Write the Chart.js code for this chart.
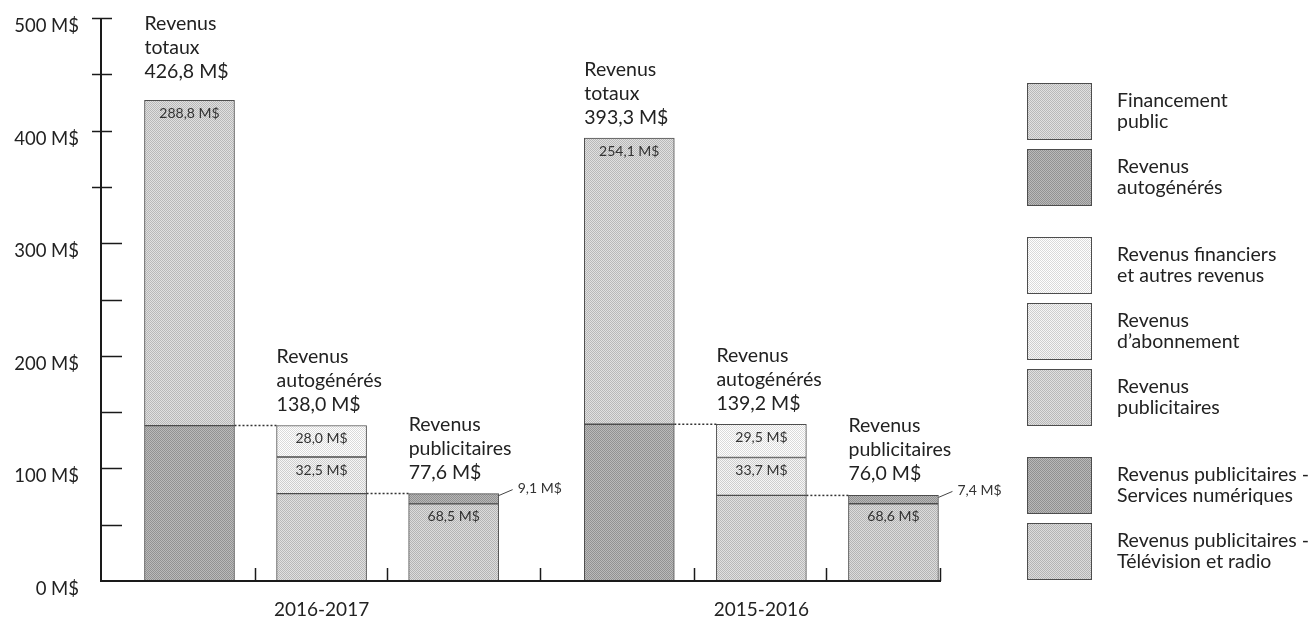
<!DOCTYPE html>
<html lang="fr">
<head>
<meta charset="UTF-8">
<title>Revenus 2016-2017 et 2015-2016</title>
<script src="https://cdn.jsdelivr.net/npm/chart.js"></script>
<style>
  html, body { margin: 0; padding: 0; background: #fff; }
  canvas { display: block; }
</style>
</head>
<body>
<canvas id="revenusChart" width="1311" height="620"></canvas>
<script>
// values in M$
const periods = ['2016-2017', '2015-2016'];
const revenusTotaux = [426.8, 393.3];
const financementPublic = [288.8, 254.1];
const revenusAutogeneres = [138.0, 139.2];
const revenusFinanciers = [28.0, 29.5];
const revenusAbonnement = [32.5, 33.7];
const revenusPublicitaires = [77.6, 76.0];
const pubNumerique = [9.1, 7.4];
const pubTeleRadio = [68.5, 68.6];
const yTickValues = [0, 100, 200, 300, 400, 500];

const legendLabels = [
    ['Financement', 'public'],
    ['Revenus', 'autogénérés'],
    ['Revenus financiers', 'et autres revenus'],
    ['Revenus', 'd\u2019abonnement'],
    ['Revenus', 'publicitaires'],
    ['Revenus publicitaires -', 'Services numériques'],
    ['Revenus publicitaires -', 'Télévision et radio']
];

// where the three bars of each period sit on the x axis
const barSlots = [[1, 2, 3], [4.33, 5.33, 6.33]];

const FONT = 'Lato, "DejaVu Sans", sans-serif';
const fmt = v => v.toFixed(1).replace('.', ',') + ' M$';

// dithered grey fill, like the print original
function hatch(avg) {
    const c = document.createElement('canvas');
    c.width = 2; c.height = 2;
    const g = c.getContext('2d');
    const hi = Math.min(255, avg + 20), lo = avg - 20;
    g.fillStyle = `rgb(${hi},${hi},${hi})`;
    g.fillRect(0, 0, 2, 2);
    g.fillStyle = `rgb(${lo},${lo},${lo})`;
    g.fillRect(0, 0, 1, 1);
    g.fillRect(1, 1, 1, 1);
    return g.createPattern(c, 'repeat');
}

const at = (slot, values) => values.map((v, i) => ({ x: barSlots[i][slot], y: v }));

function bars(label, slot, values, grey) {
    return {
        label: label,
        data: at(slot, values),
        backgroundColor: hatch(grey),
        borderColor: '#4d4d4d',
        borderWidth: 1,
        borderSkipped: false,
        barThickness: 90
    };
}

// stacking order: bottom first
const datasets = [
    bars('Revenus autogénérés', 0, revenusAutogeneres, 166),         // 0
    bars('Financement public', 0, financementPublic, 204),           // 1
    bars('Revenus publicitaires', 1, revenusPublicitaires, 204),     // 2
    bars('Revenus d\u2019abonnement', 1, revenusAbonnement, 226),    // 3
    bars('Revenus financiers et autres revenus', 1, revenusFinanciers, 238), // 4
    bars('Revenus publicitaires - Télévision et radio', 2, pubTeleRadio, 200), // 5
    bars('Revenus publicitaires - Services numériques', 2, pubNumerique, 164)  // 6
];
// legend order -> dataset index
const legendOrder = [1, 0, 4, 3, 2, 6, 5];

const decor = {
    id: 'decor',
    afterDatasetsDraw(chart) {
        const { ctx, chartArea: a, scales: { x, y } } = chart;
        const el = (ds, i) => chart.getDatasetMeta(ds).data[i];
        ctx.save();

        // titles above bars
        function title(lines, bar, gap) {
            ctx.font = '19.5px ' + FONT;
            ctx.fillStyle = '#222';
            ctx.textAlign = 'left';
            ctx.textBaseline = 'alphabetic';
            const left = bar.x - bar.width / 2;
            lines.forEach((t, k) => {
                ctx.fillText(t, left, bar.y - gap - (lines.length - 1 - k) * 24);
            });
        }
        function inside(value, bar) {
            ctx.font = '14px ' + FONT;
            ctx.fillStyle = '#333';
            ctx.textAlign = 'center';
            ctx.textBaseline = 'middle';
            ctx.fillText(fmt(value), bar.x, bar.y + 13);
        }
        function dotted(from, to) {
            ctx.strokeStyle = '#333';
            ctx.lineWidth = 1.5;
            ctx.setLineDash([2, 2]);
            ctx.beginPath();
            ctx.moveTo(from.x + from.width / 2, from.y);
            ctx.lineTo(to.x - to.width / 2, from.y);
            ctx.stroke();
            ctx.setLineDash([]);
        }

        periods.forEach((p, i) => {
            // the tallest bar's title sits a bit higher, as in the original
            title(['Revenus', 'totaux', fmt(revenusTotaux[i])], el(1, i), i === 0 ? 22 : 14);
            inside(financementPublic[i], el(1, i));
            title(['Revenus', 'autogénérés', fmt(revenusAutogeneres[i])], el(4, i), 14);
            inside(revenusFinanciers[i], el(4, i));
            inside(revenusAbonnement[i], el(3, i));
            title(['Revenus', 'publicitaires', fmt(revenusPublicitaires[i])], el(6, i), 15);
            inside(pubTeleRadio[i], el(5, i));
            dotted(el(0, i), el(4, i));
            dotted(el(2, i), el(5, i));

            // small digital slice, labelled outside with a leader
            const n = el(6, i);
            const rx = n.x + n.width / 2;
            ctx.strokeStyle = '#444';
            ctx.lineWidth = 1;
            ctx.beginPath();
            ctx.moveTo(rx, n.y + 2);
            ctx.lineTo(rx + 14, n.y - 4);
            ctx.stroke();
            ctx.font = '14px ' + FONT;
            ctx.fillStyle = '#333';
            ctx.textAlign = 'left';
            ctx.textBaseline = 'middle';
            ctx.fillText(fmt(pubNumerique[i]), rx + 19, n.y - 5);
        });

        // axes
        ctx.strokeStyle = '#1a1a1a';
        ctx.lineWidth = 2;
        ctx.beginPath();
        ctx.moveTo(a.left, y.getPixelForValue(500));
        ctx.lineTo(a.left, a.bottom);
        ctx.lineTo(a.right, a.bottom);
        ctx.stroke();
        ctx.lineWidth = 1.5;
        for (let v = 50; v <= 500; v += 50) {
            const py = Math.round(y.getPixelForValue(v)) + 0.5;
            ctx.beginPath();
            if (v >= 350) {
                ctx.moveTo(a.left - 9, py);
                ctx.lineTo(a.left + 11, py);
            } else {
                ctx.moveTo(a.left, py);
                ctx.lineTo(a.left + 21, py);
            }
            ctx.stroke();
        }
        const flat = barSlots.flat();
        const seps = flat.slice(1).map((s, k) => (s + flat[k]) / 2).concat([x.max]);
        seps.forEach(s => {
            const px = Math.round(x.getPixelForValue(s)) - 0.5;
            ctx.beginPath();
            ctx.moveTo(px, a.bottom);
            ctx.lineTo(px, a.bottom - 13);
            ctx.stroke();
        });

        // legend
        let top = 83;
        legendOrder.forEach((d, k) => {
            if (k === 2 || k === 5) top += 22;
            ctx.fillStyle = chart.data.datasets[d].backgroundColor;
            ctx.fillRect(1027, top, 65, 57);
            ctx.strokeStyle = '#4d4d4d';
            ctx.lineWidth = 1;
            ctx.strokeRect(1027.5, top + 0.5, 64, 56);
            ctx.font = '19.5px ' + FONT;
            ctx.fillStyle = '#222';
            ctx.textAlign = 'left';
            ctx.textBaseline = 'alphabetic';
            legendLabels[k].forEach((t, j) => ctx.fillText(t, 1117, top + 24 + j * 21));
            top += 66;
        });

        ctx.restore();
    }
};

new Chart(document.getElementById('revenusChart'), {
    type: 'bar',
    data: { datasets: datasets },
    options: {
        responsive: false,
        animation: false,
        events: [],
        layout: { padding: { top: 18, right: 370, left: 0, bottom: 0 } },
        plugins: {
            legend: { display: false },
            tooltip: { enabled: false }
        },
        scales: {
            x: {
                type: 'linear',
                stacked: true,
                min: 0.33,
                max: 6.69,
                offset: false,
                grid: { display: false, drawTicks: false },
                border: { display: false },
                afterBuildTicks: s => { s.ticks = periods.map((p, i) => ({ value: barSlots[i][1] })); },
                afterFit: s => { s.height = 39; s.paddingLeft = 0; s.paddingRight = 0; },
                ticks: {
                    padding: 17,
                    color: '#222',
                    font: { family: FONT, size: 19 },
                    callback: (v, idx) => periods[idx]
                }
            },
            y: {
                stacked: true,
                min: 0,
                max: 500,
                grid: { display: false, drawTicks: false },
                border: { display: false },
                afterBuildTicks: s => { s.ticks = yTickValues.map(v => ({ value: v })); },
                // fixed axis width; the label padding must not push the plot area down
                afterFit: s => { s.width = 101; s.paddingTop = 0; s.paddingBottom = 0; },
                ticks: {
                    padding: 22,
                    labelOffset: 8,
                    color: '#222',
                    font: { family: FONT, size: 18.5 },
                    callback: v => v + ' M$'
                }
            }
        }
    },
    plugins: [decor]
});
</script>
</body>
</html>
